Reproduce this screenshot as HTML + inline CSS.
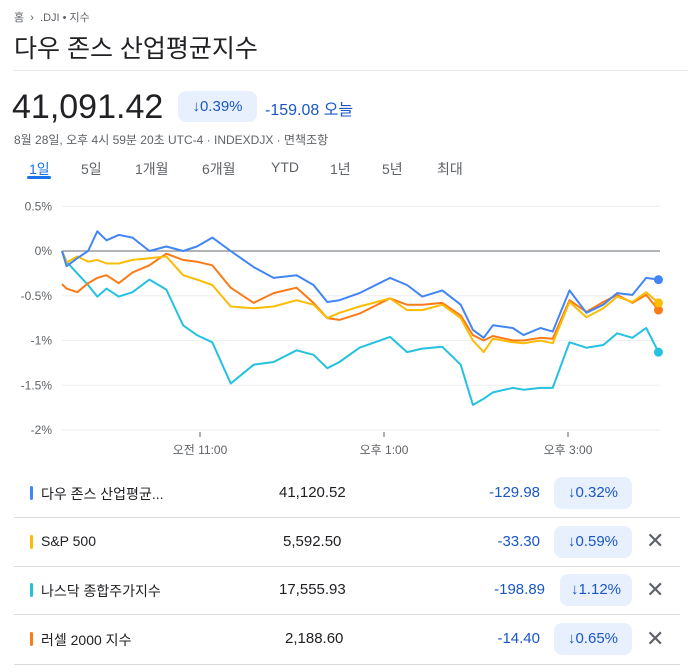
<!DOCTYPE html>
<html><head><meta charset="utf-8"><style>
body{margin:0;width:688px;height:669px;background:#fff;font-family:"Liberation Sans","Noto Sans CJK KR",sans-serif;position:relative;overflow:hidden;color:#202124}
.a{position:absolute;white-space:nowrap}
.pill{position:absolute;background:#e8f0fe;border-radius:8px;color:#1a56c8;text-align:center}
.sep{position:absolute;left:14px;width:666px;height:1px;background:#dadce0}
</style></head><body>
<div class="a" style="left:14px;top:9px;font-size:11px;color:#5f6368">홈 &nbsp;›&nbsp; .DJI • 지수</div>
<div class="a" style="left:14px;top:29px;font-size:25px;color:#202124">다우 존스 산업평균지수</div>
<div class="a" style="left:13px;top:70px;width:675px;height:1px;background:#e8eaed"></div>
<div class="a" style="left:12px;top:88px;font-size:34px;color:#202124">41,091.42</div>
<div class="pill" style="left:178px;top:91px;width:79px;height:31px;line-height:31px;font-size:15px">↓0.39%</div>
<div class="a" style="left:265px;top:96px;font-size:16px;color:#1a56c8">-159.08 오늘</div>
<div class="a" style="left:14px;top:131px;font-size:12px;color:#5f6368">8월 28일, 오후 4시 59분 20초 UTC-4 · INDEXDJX · 면책조항</div>
<div>
<div class="a" style="left:29px;top:159px;font-size:14px;color:#1a73e8">1일</div>
<div class="a" style="left:27px;top:176px;width:24px;height:3px;background:#1a73e8;border-radius:2px"></div>
<div class="a" style="left:81px;top:159px;font-size:14px;color:#5f6368">5일</div>
<div class="a" style="left:135px;top:159px;font-size:14px;color:#5f6368">1개월</div>
<div class="a" style="left:202px;top:159px;font-size:14px;color:#5f6368">6개월</div>
<div class="a" style="left:271px;top:159px;font-size:14px;color:#5f6368">YTD</div>
<div class="a" style="left:330px;top:159px;font-size:14px;color:#5f6368">1년</div>
<div class="a" style="left:382px;top:159px;font-size:14px;color:#5f6368">5년</div>
<div class="a" style="left:437px;top:159px;font-size:14px;color:#5f6368">최대</div>
</div>
<svg id="chart" width="688" height="470" style="position:absolute;left:0;top:0"></svg>

<div>
<div class="a" style="left:30px;top:486px;width:3px;height:14px;background:#4285f4;border-radius:2px"></div>
<div class="a" style="left:41px;top:484px;font-size:14px">다우 존스 산업평균...</div>
<div class="a" style="left:279px;top:484px;font-size:15px">41,120.52</div>
<div class="a" style="left:474px;top:484px;width:66px;text-align:right;font-size:15px;color:#1a56c8">-129.98</div>
<div class="pill" style="left:554px;top:477px;width:78px;height:32px;line-height:32px;font-size:15px">↓0.32%</div>
<div class="sep" style="top:517px"></div>

<div class="a" style="left:30px;top:535px;width:3px;height:14px;background:#fbbc04;border-radius:2px"></div>
<div class="a" style="left:41px;top:533px;font-size:14px">S&amp;P 500</div>
<div class="a" style="left:283px;top:533px;font-size:15px">5,592.50</div>
<div class="a" style="left:474px;top:533px;width:66px;text-align:right;font-size:15px;color:#1a56c8">-33.30</div>
<div class="pill" style="left:554px;top:526px;width:78px;height:32px;line-height:32px;font-size:15px">↓0.59%</div>
<div class="a" style="left:646px;top:528px;font-size:22px;color:#5f6368">✕</div>
<div class="sep" style="top:566px"></div>

<div class="a" style="left:30px;top:583px;width:3px;height:14px;background:#24c1e0;border-radius:2px"></div>
<div class="a" style="left:41px;top:581px;font-size:14px">나스닥 종합주가지수</div>
<div class="a" style="left:279px;top:581px;font-size:15px">17,555.93</div>
<div class="a" style="left:474px;top:581px;width:71px;text-align:right;font-size:15px;color:#1a56c8">-198.89</div>
<div class="pill" style="left:560px;top:574px;width:72px;height:32px;line-height:32px;font-size:15px">↓1.12%</div>
<div class="a" style="left:646px;top:577px;font-size:22px;color:#5f6368">✕</div>
<div class="sep" style="top:614px"></div>

<div class="a" style="left:30px;top:632px;width:3px;height:14px;background:#fa7b17;border-radius:2px"></div>
<div class="a" style="left:41px;top:630px;font-size:14px">러셀 2000 지수</div>
<div class="a" style="left:285px;top:630px;font-size:15px">2,188.60</div>
<div class="a" style="left:474px;top:630px;width:66px;text-align:right;font-size:15px;color:#1a56c8">-14.40</div>
<div class="pill" style="left:554px;top:623px;width:78px;height:32px;line-height:32px;font-size:15px">↓0.65%</div>
<div class="a" style="left:646px;top:626px;font-size:22px;color:#5f6368">✕</div>
<div class="sep" style="top:664px"></div>
</div>

<script>
const times = [0,3,10,17,23,29,37,46,57,68,79,88,98,110,125,138,153,164,173,181,194,214,225,235,248,260,268,275,281,294,301,312,320,331,342,353,362,372,381,389];
const dowValues = [0,-0.17,-0.08,0,0.22,0.12,0.18,0.15,0,0.05,0,0.05,0.15,0,-0.18,-0.3,-0.27,-0.38,-0.57,-0.55,-0.47,-0.3,-0.38,-0.51,-0.44,-0.6,-0.88,-0.97,-0.83,-0.86,-0.94,-0.86,-0.9,-0.44,-0.69,-0.6,-0.47,-0.49,-0.3,-0.32];
const spxValues = [0,-0.13,-0.06,-0.12,-0.1,-0.14,-0.14,-0.1,-0.08,-0.06,-0.27,-0.32,-0.38,-0.62,-0.64,-0.62,-0.55,-0.6,-0.75,-0.69,-0.62,-0.53,-0.66,-0.66,-0.6,-0.75,-1.0,-1.13,-0.98,-1.02,-1.03,-1.0,-1.03,-0.57,-0.74,-0.64,-0.51,-0.57,-0.46,-0.58];
const nasdaqValues = [0,-0.12,-0.25,-0.38,-0.51,-0.42,-0.51,-0.46,-0.32,-0.43,-0.83,-0.94,-1.02,-1.48,-1.27,-1.24,-1.11,-1.16,-1.31,-1.24,-1.08,-0.96,-1.13,-1.09,-1.07,-1.27,-1.72,-1.65,-1.58,-1.53,-1.55,-1.53,-1.53,-1.02,-1.08,-1.05,-0.92,-0.97,-0.86,-1.13];
const russellValues = [-0.37,-0.42,-0.46,-0.36,-0.3,-0.27,-0.36,-0.24,-0.16,-0.03,-0.1,-0.12,-0.16,-0.41,-0.58,-0.47,-0.41,-0.58,-0.75,-0.77,-0.7,-0.53,-0.6,-0.6,-0.58,-0.72,-0.94,-1.0,-0.95,-1.0,-1.0,-0.97,-0.98,-0.55,-0.68,-0.57,-0.49,-0.58,-0.49,-0.66];
const yTicks = [0.5,0,-0.5,-1,-1.5,-2];
const yTickLabels = ["0.5%","0%","-0.5%","-1%","-1.5%","-2%"];
const xTicks = [90,210,330];
const xTickLabels = ["오전 11:00","오후 1:00","오후 3:00"];

const NS="http://www.w3.org/2000/svg";
const svg=document.getElementById('chart');
const X=t=>62+t*92/60;
const Y=v=>251-v*89.5;
function mk(tag,attrs){const e=document.createElementNS(NS,tag);for(const k in attrs)e.setAttribute(k,attrs[k]);svg.appendChild(e);return e;}
yTicks.forEach((v,i)=>{
  if(v!==0){const g=mk('line',{x1:62,x2:660,y1:Y(v),y2:Y(v),stroke:'#eeeeee','stroke-width':1});
  
  }
  const t=mk('text',{x:52,y:Y(v)+4,'text-anchor':'end','font-size':12,fill:'#5f6368','font-family':'Liberation Sans, sans-serif'});
  t.textContent=yTickLabels[i];
  
  
});
const base=mk('line',{x1:62,x2:660,y1:Y(0),y2:Y(0),stroke:'#80868b','stroke-width':1.3});


xTicks.forEach((t,i)=>{
  const tk=mk('line',{x1:X(t),x2:X(t),y1:432,y2:437,stroke:'#5f6368','stroke-width':1});
  
  
  const l=mk('text',{x:X(t),y:454,'text-anchor':'middle','font-size':12,fill:'#5f6368','font-family':'Liberation Sans, Noto Sans CJK KR, sans-serif'});
  l.textContent=xTickLabels[i];
  
  
});
const series=[[nasdaqValues,'#24c1e0','nasdaq'],[russellValues,'#fa7b17','russell'],[spxValues,'#fbbc04','spx'],[dowValues,'#4285f4','dow']];
series.forEach(([vals,c,n])=>{
  const d=vals.map((v,i)=>(i?'L':'M')+X(times[i]).toFixed(1)+','+Y(v).toFixed(1)).join('');
  const p=mk('path',{d:d,fill:'none',stroke:c,'stroke-width':2,'stroke-linejoin':'round'});
  
  
  const last=vals.length-1;
  const dot=mk('circle',{cx:X(times[last]),cy:Y(vals[last]),r:4.5,fill:c});
  
  
});
</script>
</body></html>
